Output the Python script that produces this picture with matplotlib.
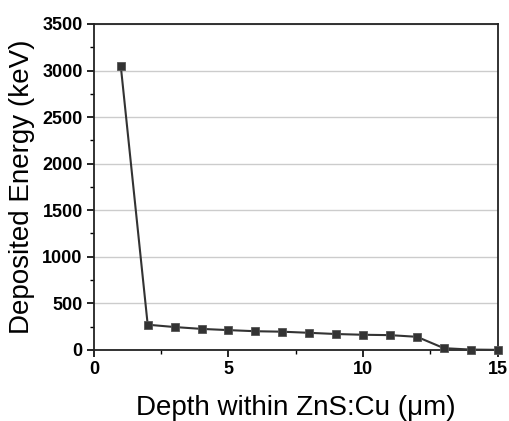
import matplotlib
matplotlib.use("Agg")
import matplotlib.pyplot as plt
from matplotlib.ticker import MultipleLocator

depth = [1, 2, 3, 4, 5, 6, 7, 8, 9, 10, 11, 12, 13, 14, 15]
energy = [3050, 270, 245, 225, 212, 200, 195, 183, 170, 162, 158, 140, 18, 3, 0]

plt.rcParams['font.family'] = ['Liberation Sans', 'DejaVu Sans']

fig = plt.figure(figsize=(5.1, 4.21), dpi=100)
ax = fig.add_axes([0.184, 0.169, 0.792, 0.774])

ax.plot(depth, energy, color='#333333', lw=1.5, marker='s', ms=6,
        markerfacecolor='#333333', markeredgecolor='#555555', markeredgewidth=0.6, zorder=3,
        clip_on=False)

ax.set_xlim(0, 15)
ax.set_ylim(0, 3500)
ax.xaxis.set_major_locator(MultipleLocator(5))
ax.xaxis.set_minor_locator(MultipleLocator(2.5))
ax.yaxis.set_major_locator(MultipleLocator(500))
ax.yaxis.set_minor_locator(MultipleLocator(250))
ax.grid(axis='y', which='major', color='#cccccc', lw=1)
ax.set_axisbelow(True)

ax.tick_params(which='both', direction='out', top=False, right=False)
ax.tick_params(which='major', length=5, width=1.2, labelsize=13, pad=3)
ax.tick_params(which='minor', length=3, width=1.0)
for lbl in ax.get_xticklabels() + ax.get_yticklabels():
    lbl.set_fontweight('bold')
for s in ax.spines.values():
    s.set_linewidth(1.3)
    s.set_color('#222222')

ax.set_xlabel('Depth within ZnS:Cu (\u03bcm)', fontsize=20, labelpad=12)
ax.set_ylabel('Deposited Energy (keV)', fontsize=20, labelpad=5)

fig.savefig('out.png', dpi=100)
